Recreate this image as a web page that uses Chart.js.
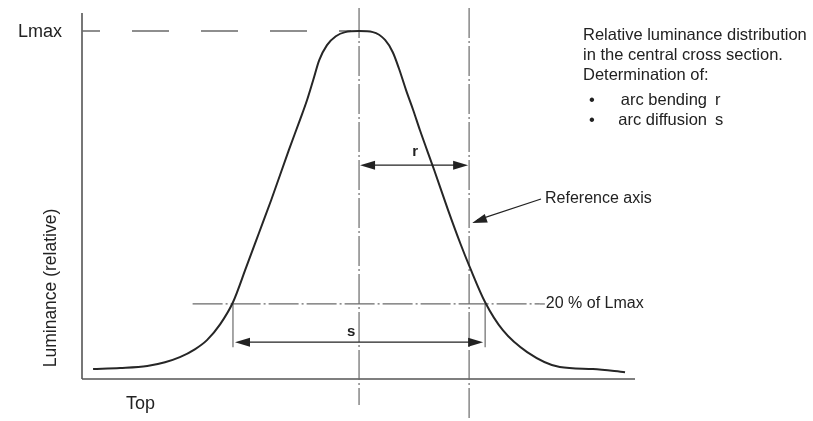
<!DOCTYPE html>
<html>
<head>
<meta charset="utf-8">
<script src="https://cdn.jsdelivr.net/npm/chart.js@4.4.1/dist/chart.umd.min.js"></script>
<style>
  html, body { margin: 0; padding: 0; background: #fff; }
  #wrap { width: 813px; height: 421px; position: relative; }
</style>
</head>
<body>
<div id="wrap"><canvas id="lumChart"></canvas></div>
<script>
// cross-section position (0..100 along the axis) and relative luminance
const position = [2.0, 6.9, 11.8, 15.0, 17.7, 20.4, 22.6, 25.0, 27.3, 29.7, 32.0, 34.2, 37.4, 39.4, 40.7, 41.8, 42.9, 44.3, 45.9, 47.6, 50.1,
                  52.6, 54.8, 56.2, 57.3, 58.6, 59.9, 61.1, 63.7, 66.2, 68.4, 70.2, 72.9, 76.1, 80.5, 86.4, 92.4, 98.2];
const luminance = [0.009, 0.012, 0.018, 0.029, 0.044, 0.067, 0.094, 0.141, 0.205, 0.308, 0.408, 0.504, 0.651, 0.739, 0.798, 0.856, 0.915, 0.959, 0.985, 0.997, 1.0,
                   0.997, 0.974, 0.938, 0.891, 0.827, 0.768, 0.710, 0.592, 0.475, 0.378, 0.305, 0.205, 0.123, 0.059, 0.015, 0.009, 0.0];

const centerPos = 50.1;     // peak / centre line
const refPos = 70.0;        // reference axis
const level20 = 0.2;        // 20 % of Lmax
const sLeft = 27.3, sRight = 72.9;
const rLevel = 0.607, sLevel = 0.088;

const noteLines = ['Relative luminance distribution', 'in the central cross section.', 'Determination of:'];
const bulletItems = [['arc bending', 'r'], ['arc diffusion', 's']];

const FONT = '"Liberation Sans", Arial, sans-serif';
const INK = '#222';
const GUIDE = '#6a6a6a';

function arrowHead(ctx, x, y, ang, len, half) {
    ctx.save();
    ctx.translate(x, y);
    ctx.rotate(ang);
    ctx.beginPath();
    ctx.moveTo(0, 0);
    ctx.lineTo(-len, -half);
    ctx.lineTo(-len, half);
    ctx.closePath();
    ctx.fillStyle = INK;
    ctx.fill();
    ctx.restore();
}

function line(ctx, x1, y1, x2, y2) {
    ctx.beginPath();
    ctx.moveTo(x1, y1);
    ctx.lineTo(x2, y2);
    ctx.stroke();
}

const guides = {
    id: 'guides',
    beforeDatasetsDraw(chart) {
        const { ctx, chartArea: a, scales: { x, y } } = chart;
        ctx.save();
        // axes
        ctx.strokeStyle = '#555';
        ctx.lineWidth = 1.6;
        line(ctx, a.left, a.top, a.left, a.bottom);
        line(ctx, a.left, a.bottom, a.right, a.bottom);

        // Lmax dashed line
        const yMax = y.getPixelForValue(1);
        ctx.strokeStyle = GUIDE;
        ctx.lineWidth = 1.5;
        ctx.setLineDash([37, 32]);
        ctx.lineDashOffset = 19;
        line(ctx, a.left, yMax, x.getPixelForValue(centerPos) - 8, yMax);

        // dash-dot centre line, reference axis, 20 % level
        ctx.lineWidth = 1.2;
        ctx.setLineDash([30, 3, 2, 3]);
        ctx.lineDashOffset = 0;
        const xc = x.getPixelForValue(centerPos);
        const xr = x.getPixelForValue(refPos);
        line(ctx, xc, 8, xc, 405);
        line(ctx, xr, 8, xr, 420);
        const y20 = y.getPixelForValue(level20);
        line(ctx, x.getPixelForValue(20), y20, x.getPixelForValue(82.8), y20);
        ctx.setLineDash([]);
        line(ctx, x.getPixelForValue(82.8), y20, x.getPixelForValue(83.7), y20);

        // extension lines for s
        const ys = y.getPixelForValue(sLevel);
        const xl = x.getPixelForValue(sLeft), xrr = x.getPixelForValue(sRight);
        line(ctx, xl, y20, xl, ys + 5);
        line(ctx, xrr, y20, xrr, ys + 5);
        ctx.restore();
    },
    afterDatasetsDraw(chart) {
        const { ctx, scales: { x, y } } = chart;
        ctx.save();
        ctx.strokeStyle = INK;
        ctx.lineWidth = 1.3;

        // r dimension
        const yr = y.getPixelForValue(rLevel);
        const xc = x.getPixelForValue(centerPos), xr = x.getPixelForValue(refPos);
        line(ctx, xc + 10, yr, xr - 10, yr);
        arrowHead(ctx, xc + 1, yr, Math.PI, 15, 4.5);
        arrowHead(ctx, xr - 1, yr, 0, 15, 4.5);

        // s dimension
        const ys = y.getPixelForValue(sLevel);
        const xl = x.getPixelForValue(sLeft), xrr = x.getPixelForValue(sRight);
        line(ctx, xl + 10, ys, xrr - 10, ys);
        arrowHead(ctx, xl + 2, ys, Math.PI, 15, 4.5);
        arrowHead(ctx, xrr - 2, ys, 0, 15, 4.5);

        // reference axis leader
        const tipY = y.getPixelForValue(0.437);
        const fromX = 541, fromY = 199;
        line(ctx, fromX, fromY, xr + 8, tipY - 3);
        arrowHead(ctx, xr + 3, tipY, Math.atan2(tipY - fromY, xr + 3 - fromX), 15, 4.5);

        // labels
        ctx.fillStyle = INK;
        ctx.textBaseline = 'middle';
        ctx.font = '18px ' + FONT;
        ctx.textAlign = 'right';
        ctx.fillText('Lmax', 62, y.getPixelForValue(1) + 1);
        ctx.textAlign = 'left';
        ctx.fillText('Top', 126, 404);

        ctx.font = '16px ' + FONT;
        ctx.fillText('20 % of Lmax', x.getPixelForValue(83.7) + 1, y.getPixelForValue(level20));
        ctx.fillText('Reference axis', 545, 199);

        ctx.font = 'bold 15px ' + FONT;
        ctx.textAlign = 'center';
        ctx.fillText('r', (xc + xr) / 2 + 1, yr - 13);
        ctx.fillText('s', xc - 8, ys - 10);

        ctx.font = '16.5px ' + FONT;
        ctx.textAlign = 'left';
        noteLines.forEach((t, i) => ctx.fillText(t, 583, 35 + i * 20));
        bulletItems.forEach(([t, sym], i) => {
            const ty = 100 + i * 20;
            ctx.fillText('\u2022', 589, ty);
            ctx.textAlign = 'right';
            ctx.fillText(t, 707, ty);
            ctx.textAlign = 'left';
            ctx.fillText(sym, 715, ty);
        });

        // y axis title
        ctx.font = '17.5px ' + FONT;
        ctx.save();
        ctx.translate(51, 288);
        ctx.rotate(-Math.PI / 2);
        ctx.textAlign = 'center';
        ctx.fillText('Luminance (relative)', 0, 0);
        ctx.restore();
        ctx.restore();
    }
};

new Chart(document.getElementById('lumChart'), {
    type: 'line',
    data: {
        datasets: [{
            data: position.map((p, i) => ({ x: p, y: luminance[i] })),
            borderColor: '#262626',
            borderWidth: 2,
            pointRadius: 0,
            fill: false,
            cubicInterpolationMode: 'monotone'
        }]
    },
    options: {
        responsive: true,
        maintainAspectRatio: false,
        animation: false,
        layout: { padding: { left: 82, top: 13, right: 178, bottom: 42 } },
        scales: {
            x: { type: 'linear', min: 0, max: 100, display: false },
            y: { min: -0.02, max: 1.053, display: false }
        },
        plugins: {
            legend: { display: false },
            tooltip: { enabled: false }
        }
    },
    plugins: [guides]
});
</script>
</body>
</html>
